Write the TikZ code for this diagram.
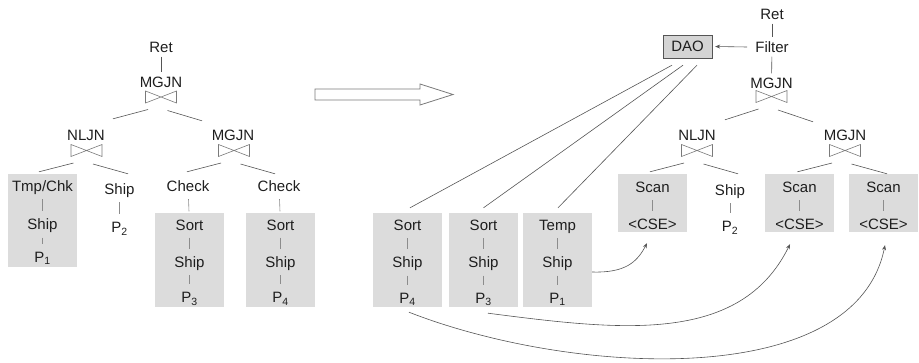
\documentclass[tikz,border=0pt]{standalone}
\usepackage{fontspec}
\setmainfont{Liberation Sans}
\usetikzlibrary{positioning, calc, arrows.meta}
\definecolor{boxgray}{HTML}{DCDCDC}
\definecolor{daogray}{HTML}{D4D4D4}
\definecolor{linegray}{HTML}{555555}
\definecolor{stemgray}{HTML}{8C8C8C}
\definecolor{joingray}{HTML}{7A7A7A}
\definecolor{txtgray}{HTML}{1E1E1E}

\begin{document}
\begin{tikzpicture}[
    x=1pt, y=-1pt,
    every node/.style={font=\fontsize{15}{17}\selectfont, text=txtgray},
    lbl/.style={inner xsep=2pt, inner ysep=4pt, text height=11pt, text depth=0pt},
    gbox/.style={fill=boxgray, minimum width=69pt, inner sep=0pt},
    daobox/.style={draw=linegray, fill=daogray, minimum width=49pt, minimum height=23pt, inner sep=0pt},
    bowtie/.style={minimum width=32pt, minimum height=13pt, inner sep=0pt,
        path picture={\draw[draw=joingray, line width=0.6pt]
            ([shift={(.5pt,-.5pt)}]path picture bounding box.north west) --
            ([shift={(-.5pt,.5pt)}]path picture bounding box.south east) --
            ([shift={(-.5pt,-.5pt)}]path picture bounding box.north east) --
            ([shift={(.5pt,.5pt)}]path picture bounding box.south west) -- cycle;}},
    branch/.style={draw=linegray, line width=0.6pt},
    dline/.style={draw=linegray, line width=0.6pt},
    stem/.style={draw=stemgray, line width=0.6pt, shorten <=3.5pt, shorten >=3.5pt},
    arr/.style={draw=linegray, line width=0.6pt, -{Stealth[length=5pt, width=4pt]}},
    hollow/.style={draw=joingray, fill=white, line width=0.8pt}
]
\useasboundingbox (0,0) rectangle (919,362);

% shaded groups
\node[gbox, minimum height=93pt] (boxA) at (42.5,220.5) {};
\node[gbox, minimum height=94pt] (boxB) at (189.5,260) {};
\node[gbox, minimum height=94pt] (boxC) at (280.5,260) {};
\node[gbox, minimum height=94pt] (mbA) at (407.5,260) {};
\node[gbox, minimum height=94pt] (mbB) at (483.5,260) {};
\node[gbox, minimum height=94pt] (mbC) at (557.5,260) {};
\node[gbox, minimum height=58pt] (sbA) at (652.5,203) {};
\node[gbox, minimum height=58pt] (sbB) at (799.5,203) {};
\node[gbox, minimum height=58pt] (sbC) at (883.5,203) {};

% original plan
\node[lbl] (retL) at (161,47) {Ret};
\node[lbl] (mgL) at (161,82) {MGJN};
\node[bowtie] (btA) at (161,97) {};
\node[lbl] (nlL) at (86,135) {NLJN};
\node[bowtie] (btB) at (86.5,150.5) {};
\node[lbl] (mgL2) at (233,135) {MGJN};
\node[bowtie] (btC) at (234,150.5) {};

\node[lbl] (tcA) at (42.5,186) {Tmp/Chk};
\node[lbl, below=19pt of tcA] (shA) {Ship};
\node[lbl, below=13pt of shA] (pA) {P\textsubscript{1}};
\node[lbl] (shL) at (119.5,189) {Ship};
\node[lbl, below=19pt of shL] (pL) {P\textsubscript{2}};
\node[lbl] (ckB) at (188,186) {Check};
\node[lbl] (soB) at (189.5,224.5) {Sort};
\node[lbl, below=18pt of soB] (shB) {Ship};
\node[lbl, below=16pt of shB] (pB) {P\textsubscript{3}};
\node[lbl] (ckC) at (279,186) {Check};
\node[lbl] (soC) at (280.5,224.5) {Sort};
\node[lbl, below=18pt of soC] (shC) {Ship};
\node[lbl, below=16pt of shC] (pC) {P\textsubscript{4}};

\draw[dline] (retL) -- (mgL);
\draw[branch] ($(btA)+(-13,12.5)$) -- ($(nlL.north)+(27,-6.5)$);
\draw[branch] ($(btA)+(6.5,13.5)$) -- ($(mgL2.north)+(-31,-4.5)$);
\draw[branch] ($(btB)+(-13,12.5)$) -- ($(tcA.north)+(-3.5,-4.5)$);
\draw[branch] ($(btB)+(6.5,13.5)$) -- ($(shL.north)+(8.5,-5.5)$);
\draw[branch] ($(btC)+(-13,12.5)$) -- ($(ckB.north)+(-1,-4.5)$);
\draw[branch] ($(btC)+(6.5,13.5)$) -- ($(ckC.north)+(-4,-2.5)$);
\draw[stem] (tcA) -- (shA);
\draw[stem] (shA) -- (pA);
\draw[stem] (shL) -- (pL);
\draw[stem] (ckB) -- (soB);
\draw[stem] (soB) -- (shB);
\draw[stem] (shB) -- (pB);
\draw[stem] (ckC) -- (soC);
\draw[stem] (soC) -- (shC);
\draw[stem] (shC) -- (pC);

% rewrite arrow
\draw[hollow] (315,89) -- (420,89) -- (420,84) -- (453,94.5) -- (420,105) -- (420,100) -- (315,100) -- cycle;

% shared subplans
\node[lbl] (soA2) at (407.5,225) {Sort};
\node[lbl, below=18pt of soA2] (shA2) {Ship};
\node[lbl, below=16pt of shA2] (pA2) {P\textsubscript{4}};
\node[lbl] (soB2) at (483.5,225) {Sort};
\node[lbl, below=18pt of soB2] (shB2) {Ship};
\node[lbl, below=16pt of shB2] (pB2) {P\textsubscript{3}};
\node[lbl] (tmC2) at (557.5,225) {Temp};
\node[lbl, below=18pt of tmC2] (shC2) {Ship};
\node[lbl, below=16pt of shC2] (pC2) {P\textsubscript{1}};
\foreach \a/\b in {soA2/shA2, shA2/pA2, soB2/shB2, shB2/pB2, tmC2/shC2, shC2/pC2}
    \draw[stem] (\a) -- (\b);

% rewritten plan
\node[lbl] (retR) at (772,14) {Ret};
\node[lbl] (filt) at (772,47) {Filter};
\node[daobox] (dao) at (687.5,46.5) {DAO};
\node[lbl] (mgR) at (771.5,83) {MGJN};
\node[bowtie] (btD) at (771.5,96.5) {};
\node[lbl] (nlR) at (697,135) {NLJN};
\node[bowtie] (btE) at (697,150.5) {};
\node[lbl] (mgR2) at (845,135) {MGJN};
\node[bowtie] (btF) at (845,150.5) {};

\node[lbl] (scA) at (652.5,187) {Scan};
\node[lbl, below=18pt of scA] (cseA) {<CSE>};
\node[lbl] (shR) at (730,190) {Ship};
\node[lbl, below=17pt of shR] (pR) {P\textsubscript{2}};
\node[lbl] (scB) at (799.5,187) {Scan};
\node[lbl, below=18pt of scB] (cseB) {<CSE>};
\node[lbl] (scC) at (883.5,187) {Scan};
\node[lbl, below=18pt of scC] (cseC) {<CSE>};

\draw[dline] (retR) -- (filt);
\draw[dline] (filt) -- (mgR);
\draw[arr] ($(filt.west)+(-6,0)$) -- ($(dao.east)+(3,0)$);
\draw[branch] ($(btD)+(-13,12.5)$) -- ($(nlR.north)+(28,-5.5)$);
\draw[branch] ($(btD)+(6.5,13.5)$) -- ($(mgR2.north)+(-32,-3.5)$);
\draw[branch] ($(btE)+(-13,12.5)$) -- ($(scA.north)+(-2.5,-5.5)$);
\draw[branch] ($(btE)+(6.5,13.5)$) -- ($(shR.north)+(8,-6.5)$);
\draw[branch] ($(btF)+(-13,12.5)$) -- ($(scB.north)+(-2,-5.5)$);
\draw[branch] ($(btF)+(6.5,13.5)$) -- ($(scC.north)+(3.5,-3.5)$);
\foreach \a/\b in {scA/cseA, shR/pR, scB/cseB, scC/cseC}
    \draw[stem] (\a) -- (\b);

% DAO consumers and CSE references
\draw[dline] ($(dao.south)+(-15.5,7)$) -- ($(mbA.north)+(2.5,-5)$);
\draw[dline] ($(dao.south)+(-4.5,7)$) -- ($(mbB.north)+(0,-5)$);
\draw[dline] ($(dao.south)+(9.5,7)$) -- ($(mbC.north)+(0.5,-5)$);
\draw[arr] ($(mbC.east)+(0,12)$) .. controls +(33,1) and +(-10,19) .. ($(sbA.south)+(-5.5,11)$);
\draw[arr] ($(mbB.south)+(4.5,6)$) .. controls +(132,17) and +(-50,101) .. ($(sbB.south)+(-9.5,12)$);
\draw[arr] ($(mbA.south)+(1.5,5)$) .. controls +(161,63) and +(-30,147) .. ($(sbC.south)+(1.5,13)$);

\end{tikzpicture}
\end{document}
